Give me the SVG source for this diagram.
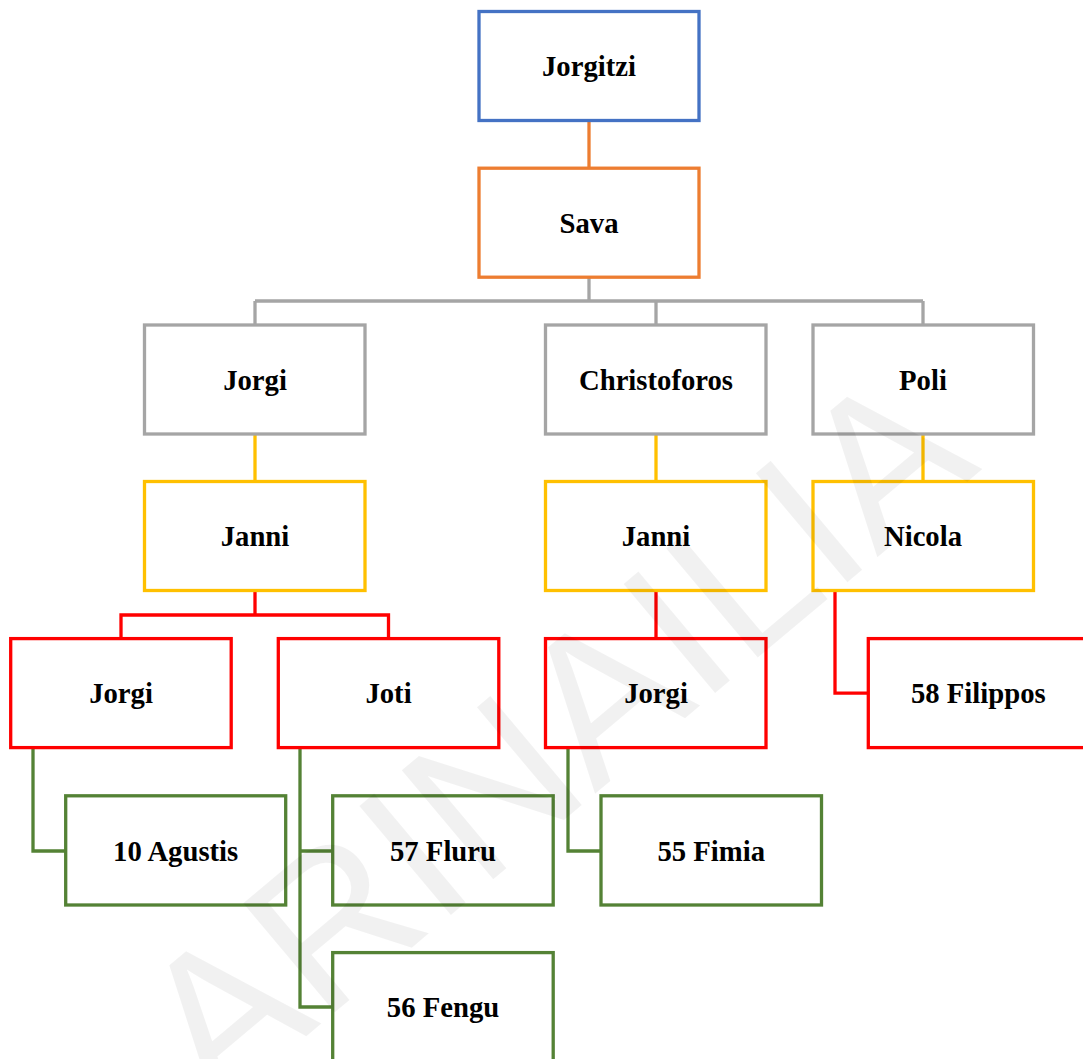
<svg xmlns="http://www.w3.org/2000/svg" width="1083" height="1059" viewBox="0 0 1083 1059">
<style>
  .box{fill:#fff;stroke-width:3.3}
  .lbl{font-family:"Liberation Serif","Times New Roman",serif;font-weight:bold;font-size:28.7px;fill:#000;text-anchor:middle}
  .c{fill:none;stroke-width:3.3}
  .blue{stroke:#4472C4}.orange{stroke:#ED7D31}.gray{stroke:#A5A5A5}.yellow{stroke:#FFC000}.red{stroke:#FF0000}.green{stroke:#548235}
  .wm{font-family:"Liberation Sans",Arial,sans-serif;font-size:207px;fill:#000;fill-opacity:0.055}
</style>
<rect width="1083" height="1059" fill="#fff"/>
<g id="connectors">
  <path class="c orange" d="M589,120 V168"/>
  <path class="c gray" d="M589,277 V301 M255,301 H923 M255,301 V325 M656,301 V325 M923,301 V325"/>
  <path class="c yellow" d="M255,434 V481.5 M656,434 V481.5 M923,434 V481.5"/>
  <path class="c red" d="M255,590.5 V615 M121,638.6 V615 H388.5 V638.6 M656,590.5 V638.6 M835,590.5 V693.2 H868.3"/>
  <path class="c green" d="M33,747.6 V851 H65.7 M300,747.6 V1007 H332.7 M300,851 H332.7 M568,747.6 V851 H601"/>
</g>
<g id="n-jorgitzi"><rect class="box blue" x="479" y="11.5" width="220" height="109"/><text class="lbl" x="589" y="76">Jorgitzi</text></g>
<g id="n-sava"><rect class="box orange" x="479" y="168.2" width="220" height="109"/><text class="lbl" x="589" y="232.7">Sava</text></g>
<g id="n-jorgi1"><rect class="box gray" x="144.5" y="325" width="220.5" height="109"/><text class="lbl" x="255" y="389.5">Jorgi</text></g>
<g id="n-christoforos"><rect class="box gray" x="545.5" y="325" width="220.5" height="109"/><text class="lbl" x="656" y="389.5">Christoforos</text></g>
<g id="n-poli"><rect class="box gray" x="813" y="325" width="220.5" height="109"/><text class="lbl" x="923" y="389.5">Poli</text></g>
<g id="n-janni1"><rect class="box yellow" x="144.5" y="481.5" width="220.5" height="109"/><text class="lbl" x="255" y="546">Janni</text></g>
<g id="n-janni2"><rect class="box yellow" x="545.5" y="481.5" width="220.5" height="109"/><text class="lbl" x="656" y="546">Janni</text></g>
<g id="n-nicola"><rect class="box yellow" x="813" y="481.5" width="220.5" height="109"/><text class="lbl" x="923" y="546">Nicola</text></g>
<g id="n-jorgi2"><rect class="box red" x="10.7" y="638.6" width="220.5" height="109"/><text class="lbl" x="121" y="703.3">Jorgi</text></g>
<g id="n-joti"><rect class="box red" x="278.3" y="638.6" width="220.5" height="109"/><text class="lbl" x="388.5" y="703.3">Joti</text></g>
<g id="n-jorgi3"><rect class="box red" x="545.5" y="638.6" width="220.5" height="109"/><text class="lbl" x="656" y="703.3">Jorgi</text></g>
<g id="n-filippos"><rect class="box red" x="868.3" y="638.6" width="220" height="109"/><text class="lbl" x="978.3" y="703.3">58 Filippos</text></g>
<g id="n-agustis"><rect class="box green" x="65.7" y="795.8" width="220" height="109.2"/><text class="lbl" x="175.7" y="860.5">10 Agustis</text></g>
<g id="n-fluru"><rect class="box green" x="332.7" y="795.8" width="220.5" height="109.2"/><text class="lbl" x="443" y="860.5">57 Fluru</text></g>
<g id="n-fimia"><rect class="box green" x="601" y="795.8" width="220.5" height="109.2"/><text class="lbl" x="711.2" y="860.5">55 Fimia</text></g>
<g id="n-fengu"><rect class="box green" x="332.7" y="952.6" width="220.5" height="109.2"/><text class="lbl" x="443" y="1016.8">56 Fengu</text></g>
<text class="wm" transform="translate(216,1112) rotate(-40)">ARINAILIA</text>
</svg>
